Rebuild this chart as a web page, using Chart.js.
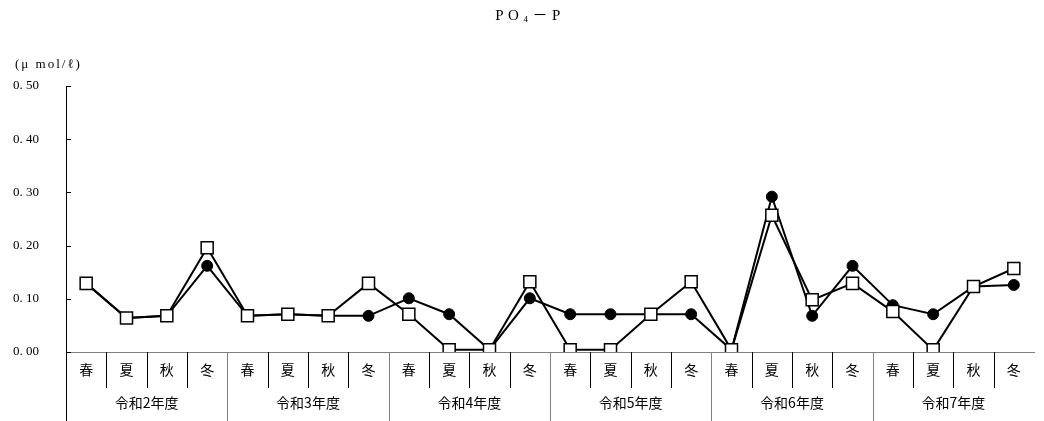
<!DOCTYPE html>
<html lang="ja">
<head>
<meta charset="UTF-8">
<title>PO4-P</title>
<script src="https://cdn.jsdelivr.net/npm/chart.js"></script>
<style>
  html, body { margin:0; padding:0; background:#fff; }
</style>
</head>
<body>
<canvas id="po4Chart" width="1044" height="421"></canvas>
<script>
const seasons = ['春', '夏', '秋', '冬'];
const years = ['令和2年度', '令和3年度', '令和4年度', '令和5年度', '令和6年度', '令和7年度'];
// 黒丸
const circleVals = [0.129, 0.064, 0.068, 0.162,  0.068, 0.071, 0.068, 0.068,
                    0.101, 0.071, 0.004, 0.101,  0.071, 0.071, 0.071, 0.071,
                    0.004, 0.292, 0.068, 0.162,  0.088, 0.071, 0.123, 0.126];
// 白四角
const squareVals = [0.129, 0.064, 0.068, 0.196,  0.068, 0.071, 0.068, 0.129,
                    0.071, 0.004, 0.004, 0.132,  0.004, 0.004, 0.071, 0.132,
                    0.004, 0.257, 0.098, 0.129,  0.076, 0.004, 0.123, 0.157];
const yTicks = [0, 0.1, 0.2, 0.3, 0.4, 0.5];
const titleText = ['PO', '4', '－P'];
const unitText = '(μ mol/ℓ)';

const labels = [];
years.forEach(y => seasons.forEach(s => labels.push(y + ' ' + s)));

const serif = "'Liberation Serif', 'Noto Sans CJK JP', serif";
const jp = "'Noto Sans CJK JP', sans-serif";

// 表題・単位・内向き目盛・2段の横軸ラベル
const decorPlugin = {
    id: 'decor',
    afterDraw(chart) {
        const ctx = chart.ctx;
        const area = chart.chartArea;
        const xs = chart.scales.x, ys = chart.scales.y;
        ctx.save();
        ctx.fillStyle = '#000';
        ctx.textBaseline = 'middle';

        // title
        ctx.letterSpacing = '4.5px';
        ctx.font = '15px ' + serif;
        const w0 = ctx.measureText(titleText[0]).width;
        ctx.font = '9px ' + serif;
        const w1 = ctx.measureText(titleText[1]).width;
        ctx.font = '15px ' + serif;
        const w2 = ctx.measureText(titleText[2]).width;
        let tx = 530 - (w0 + w1 + w2) / 2;
        ctx.textAlign = 'left';
        ctx.fillText(titleText[0], tx, 16); tx += w0;
        ctx.font = '9px ' + serif;
        ctx.fillText(titleText[1], tx, 20); tx += w1;
        ctx.font = '15px ' + serif;
        ctx.fillText(titleText[2], tx, 16);

        // unit
        ctx.letterSpacing = '2px';
        ctx.font = '13px ' + serif;
        ctx.fillText(unitText, 15, 65);
        ctx.letterSpacing = '0px';

        // inward ticks
        ctx.strokeStyle = '#000';
        ctx.lineWidth = 1;
        yTicks.forEach(v => {
            const py = Math.round(ys.getPixelForValue(v)) + 0.5;
            ctx.beginPath();
            ctx.moveTo(area.left, py);
            ctx.lineTo(area.left + 5, py);
            ctx.stroke();
        });

        // season labels and dividers
        const n = labels.length;
        const step = (area.right - area.left) / n;
        ctx.textAlign = 'center';
        ctx.font = '14px ' + jp;
        for (let i = 0; i < n; i++) {
            const cx = xs.getPixelForValue(i);
            ctx.fillText(seasons[i % 4], cx, 370);
            const bx = Math.round(cx - step / 2) + 0.5;
            const grp = i % 4 === 0;
            ctx.strokeStyle = grp && i > 0 ? '#808080' : '#000';
            ctx.beginPath();
            ctx.moveTo(bx, area.bottom);
            ctx.lineTo(bx, grp ? 421 : 388);
            ctx.stroke();
        }
        // year labels
        years.forEach((y, g) => {
            const cx = (xs.getPixelForValue(g * 4 + 1) + xs.getPixelForValue(g * 4 + 2)) / 2;
            ctx.fillText(y, cx, 403);
        });
        ctx.restore();
    }
};

const ctx = document.getElementById('po4Chart').getContext('2d');
new Chart(ctx, {
    type: 'line',
    data: {
        labels: labels,
        datasets: [
            { label: 'square', data: squareVals, order: 0,
              borderColor: '#000', borderWidth: 2, tension: 0,
              pointStyle: 'rect', pointRadius: 8.5, pointBackgroundColor: '#fff',
              pointBorderColor: '#000', pointBorderWidth: 1.5 },
            { label: 'circle', data: circleVals, order: 1,
              borderColor: '#000', borderWidth: 2, tension: 0,
              pointStyle: 'circle', pointRadius: 5.5, pointBackgroundColor: '#000',
              pointBorderColor: '#000', pointBorderWidth: 1 }
        ]
    },
    options: {
        responsive: false,
        animation: false,
        layout: { padding: { top: 86, left: 13, right: 5, bottom: 0 } },
        plugins: { legend: { display: false }, tooltip: { enabled: false }, title: { display: false } },
        scales: {
            x: {
                type: 'category',
                offset: true,
                grid: { display: false },
                border: { display: true, color: '#808080', width: 1 },
                ticks: { display: false },
                afterFit(scale) { scale.height = 69; }
            },
            y: {
                min: 0, max: 0.5,
                afterBuildTicks(scale) { scale.ticks = yTicks.map(v => ({ value: v })); },
                grid: { display: false },
                border: { display: true, color: '#000', width: 1 },
                ticks: {
                    crossAlign: 'far',
                    color: '#000',
                    font: { family: serif, size: 13 },
                    callback: v => v.toFixed(2).replace('.', '. ')
                },
                afterFit(scale) { scale.width = 53; }
            }
        }
    },
    plugins: [decorPlugin]
});
</script>
</body>
</html>
